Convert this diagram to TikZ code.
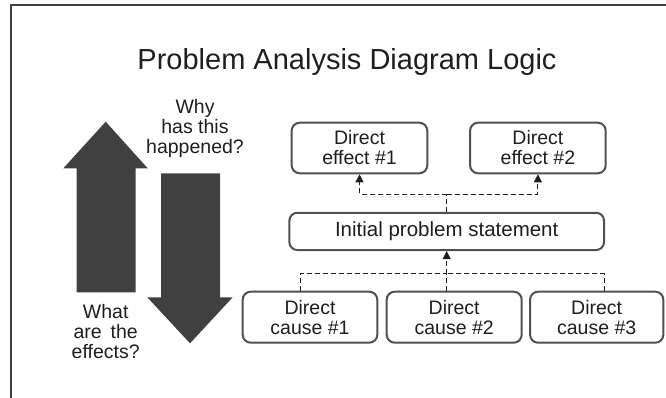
\documentclass[tikz,border=0pt]{standalone}
\usepackage{fontspec}
\setmainfont{Liberation Sans}
\usetikzlibrary{arrows.meta,calc}
\definecolor{ink}{HTML}{1E1E1E}
\definecolor{arrowgray}{HTML}{404040}
\definecolor{boxgray}{HTML}{505050}
\tikzset{
  boxnode/.style={draw=boxgray, line width=2pt, rounded corners=8pt, fill=white,
    align=center, text=ink, inner sep=0pt,
    font=\fontsize{19.5}{20}\selectfont},
  conn/.style={draw=ink, line width=1pt, dash pattern=on 5pt off 3pt},
  tip/.style={-{Triangle[width=8pt,length=8pt]}},
  bigarrow/.style={fill=arrowgray, draw=none},
  sidetext/.style={align=center, text=ink, inner sep=0pt,
    font=\fontsize{19.5}{20}\selectfont},
}
\begin{document}
\begin{tikzpicture}[x=1pt,y=-1pt]
  \useasboundingbox (0,0) rectangle (666,398);
  % frame lines at top and left
  \draw[draw=arrowgray, line width=2pt] (10.5,398) -- (10.5,5.5) -- (666,5.5);

  % title
  \node[anchor=base, text=ink, inner sep=0pt, font=\fontsize{29}{30}\selectfont]
    (title) at (347,70) {Problem Analysis Diagram Logic};

  % large direction arrows
  \path[bigarrow] (105.7,121.7) -- (147.7,168.3) -- (135.7,168.3) -- (135.7,292.3)
    -- (76.7,292.3) -- (76.7,168.3) -- (63.3,168.3) -- cycle;
  \path[bigarrow] (190,343.3) -- (232.7,297.3) -- (220,297.3) -- (220,173.3)
    -- (161,173.3) -- (161,297.3) -- (147.3,297.3) -- cycle;

  \node[sidetext] (why) at (195,128.5) {Why\\has this\\happened?};
  \node[sidetext] (what) at (105.7,332) {What\\are\hspace{9pt}the\\effects?};

  % boxes
  \node[boxnode, minimum width=135.6pt, minimum height=50.6pt] (e1) at (359.5,148) {Direct\\effect \#1};
  \node[boxnode, minimum width=135.6pt, minimum height=50.6pt] (e2) at (537.9,148) {Direct\\effect \#2};
  \node[boxnode, minimum width=314.7pt, minimum height=37.3pt,
        font=\fontsize{20.5}{21}\selectfont] (init) at (446.7,231.4) {Initial problem statement};
  \node[boxnode, minimum width=134.6pt, minimum height=51pt] (c1) at (310,317.2) {Direct\\cause \#1};
  \node[boxnode, minimum width=135pt, minimum height=51pt] (c2) at (454.2,317.2) {Direct\\cause \#2};
  \node[boxnode, minimum width=133.3pt, minimum height=51pt] (c3) at (596.7,317.2) {Direct\\cause \#3};

  % effects branch
  \coordinate (j1) at ($(init.north)+(0,-17.5)$);
  \draw[conn] (init.north) -- (j1);
  \draw[conn, tip] (j1) -| (e1.south);
  \draw[conn, tip] (j1) -| (e2.south);

  % causes branch
  \coordinate (j2) at ($(init.south)+(0,22.7)$);
  \draw[conn] ([xshift=-10pt]c1.north) |- (j2);
  \draw[conn] ([xshift=7.6pt]c3.north) |- (j2);
  \draw[conn] (c2.north -| j2) -- (j2);
  \draw[conn, tip] (j2) -- (init.south);
\end{tikzpicture}
\end{document}
